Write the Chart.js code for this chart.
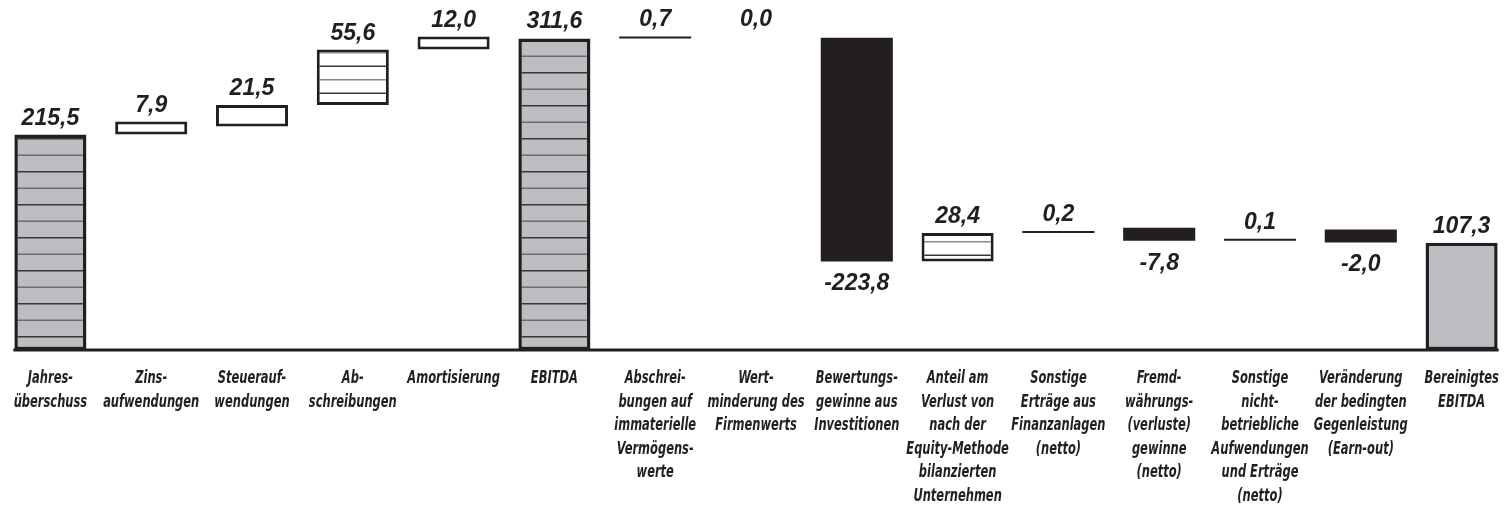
<!DOCTYPE html>
<html lang="de">
<head>
<meta charset="utf-8">
<script src="https://cdn.jsdelivr.net/npm/chart.js@4.4.1/dist/chart.umd.min.js"></script>
<style>
  html, body { margin: 0; padding: 0; background: #fff; }
  #wrap { width: 1512px; height: 508px; position: relative; }
</style>
</head>
<body>
<div id="wrap"><canvas id="bridgeChart"></canvas></div>
<script>
const categories = [
  ["Jahres-", "überschuss"],
  ["Zins-", "aufwendungen"],
  ["Steuerauf-", "wendungen"],
  ["Ab-", "schreibungen"],
  ["Amortisierung"],
  ["EBITDA"],
  ["Abschrei-", "bungen auf", "immaterielle", "Vermögens-", "werte"],
  ["Wert-", "minderung des", "Firmenwerts"],
  ["Bewertungs-", "gewinne aus", "Investitionen"],
  ["Anteil am", "Verlust von", "nach der", "Equity-Methode", "bilanzierten", "Unternehmen"],
  ["Sonstige", "Erträge aus", "Finanzanlagen", "(netto)"],
  ["Fremd-", "währungs-", "(verluste)", "gewinne", "(netto)"],
  ["Sonstige", "nicht-", "betriebliche", "Aufwendungen", "und Erträge", "(netto)"],
  ["Veränderung", "der bedingten", "Gegenleistung", "(Earn-out)"],
  ["Bereinigtes", "EBITDA"],
];
const values = [215.5, 7.9, 21.5, 55.6, 12.0, 311.6, 0.7, 0.0, -223.8, 28.4, 0.2, -7.8, 0.1, -2.0, 107.3];
// total = bar from zero, step = floats from running level, line = thin rule
const kinds = ["total", "step", "step", "step", "step", "total", "line", "line", "step", "step", "line", "step", "line", "step", "total"];
const fills = ["striped", "white", "white", "lined", "white", "striped", "ink", "none", "ink", "lined", "ink", "ink", "ink", "ink", "gray"];

const ink = "#231f20";
const gray = "#bcbdc0";

// build waterfall ranges from the values
let level = 0;
const boxRanges = [];
const lineRanges = [];
values.forEach((v, i) => {
  let range;
  if (kinds[i] === "total") {
    range = [0, v];
    level = v;
  } else {
    range = [level, level + v];
    level += v;
  }
  boxRanges.push(kinds[i] === "line" ? null : range);
  lineRanges.push(kinds[i] === "line" ? range : null);
});

// horizontal stripe patterns
function stripes(bg, period, lines) {
  const c = document.createElement("canvas");
  c.width = 8;
  c.height = period;
  const g = c.getContext("2d");
  g.fillStyle = bg;
  g.fillRect(0, 0, 8, period);
  lines.forEach(([y, col]) => {
    g.fillStyle = col;
    g.fillRect(0, y, 8, 1.5);
  });
  return g.createPattern(c, "repeat");
}
const stripedGray = stripes(gray, 33, [[6, "#3a3637"], [22.5, "#6d6b6c"]]);
const linedWhite = stripes("#ffffff", 27, [[11.5, "#3a3637"], [25, "#8a8889"]]);

function fillFor(name) {
  if (name === "striped") return stripedGray;
  if (name === "lined") return linedWhite;
  if (name === "gray") return gray;
  if (name === "white") return "#ffffff";
  if (name === "none") return "rgba(0,0,0,0)";
  return ink;
}
function borderFor(i) {
  const f = fills[i];
  if (f === "ink" || f === "none") return 0;
  return kinds[i] === "total" ? 3.5 : 3;
}

const baseLine = {
  id: "baseLine",
  afterDatasetsDraw(chart) {
    const bars = chart.getDatasetMeta(0).data;
    const first = bars[0];
    const last = bars[bars.length - 1];
    const y = chart.scales.y.getPixelForValue(0);
    const ctx = chart.ctx;
    ctx.save();
    ctx.strokeStyle = ink;
    ctx.lineWidth = 3;
    ctx.beginPath();
    ctx.moveTo(first.x - first.width / 2 - 1, y);
    ctx.lineTo(last.x + last.width / 2 + 1, y);
    ctx.stroke();
    ctx.restore();
  },
};

const valueLabels = {
  id: "valueLabels",
  afterDatasetsDraw(chart) {
    const ctx = chart.ctx;
    ctx.save();
    ctx.font = 'italic bold 23px "Liberation Sans", Arial, sans-serif';
    ctx.fillStyle = ink;
    ctx.textAlign = "center";
    values.forEach((v, i) => {
      const bar = chart.getDatasetMeta(kinds[i] === "line" ? 1 : 0).data[i];
      const top = Math.min(bar.y, bar.base);
      const bottom = Math.max(bar.y, bar.base);
      const text = v.toFixed(1).replace(".", ",");
      if (v < 0) {
        ctx.textBaseline = "top";
        ctx.fillText(text, bar.x, bottom + 11);
      } else {
        ctx.textBaseline = "alphabetic";
        ctx.fillText(text, bar.x, top - 10);
      }
    });
    ctx.restore();
  },
};

// category names in a narrow italic face, placed at the x scale's tick positions
const categoryLabels = {
  id: "categoryLabels",
  afterDraw(chart) {
    const ctx = chart.ctx;
    const xs = chart.scales.x;
    const squeeze = 0.75;
    ctx.save();
    ctx.font = 'italic bold 17px "DejaVu Sans Condensed", "DejaVu Sans", sans-serif';
    ctx.fillStyle = ink;
    ctx.textAlign = "center";
    ctx.textBaseline = "middle";
    categories.forEach((lines, i) => {
      const x = xs.getPixelForTick(i);
      lines.forEach((line, j) => {
        const y = chart.chartArea.bottom + 29 + j * 23.5;
        ctx.save();
        ctx.translate(x, y);
        ctx.scale(squeeze, 1);
        ctx.fillText(line, 0, 0);
        ctx.restore();
      });
    });
    ctx.restore();
  },
};

new Chart(document.getElementById("bridgeChart"), {
  type: "bar",
  data: {
    labels: categories.map((l) => l.join(" ")),
    datasets: [
      {
        label: "boxes",
        data: boxRanges,
        minBarLength: 13,
        backgroundColor: (c) => fillFor(fills[c.dataIndex]),
        borderColor: ink,
        borderWidth: (c) => borderFor(c.dataIndex),
        borderSkipped: false,
        grouped: false,
        barPercentage: 0.715,
        categoryPercentage: 1,
      },
      {
        label: "lines",
        data: lineRanges,
        minBarLength: 2,
        backgroundColor: (c) => fillFor(fills[c.dataIndex]),
        borderWidth: 0,
        grouped: false,
        barPercentage: 0.715,
        categoryPercentage: 1,
      },
    ],
  },
  options: {
    responsive: true,
    maintainAspectRatio: false,
    devicePixelRatio: 1,
    animation: false,
    layout: { padding: { top: 10, bottom: 158, left: 0, right: 0 } },
    plugins: {
      legend: { display: false },
      tooltip: { enabled: false },
    },
    scales: {
      x: {
        grid: { display: false, drawTicks: false },
        border: { display: false },
        ticks: { display: false },
      },
      y: {
        display: false,
        min: 0,
        max: 340,
      },
    },
  },
  plugins: [baseLine, valueLabels, categoryLabels],
});
</script>
</body>
</html>
